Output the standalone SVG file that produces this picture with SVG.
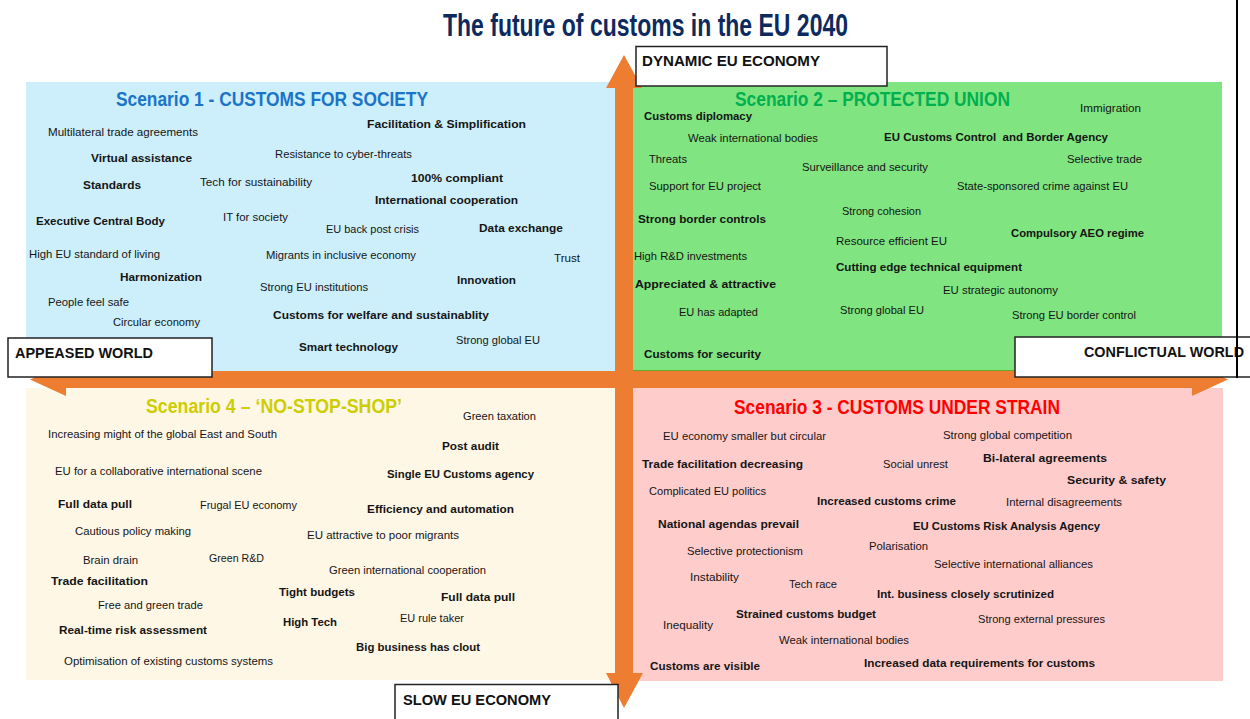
<svg xmlns="http://www.w3.org/2000/svg" width="1250" height="719" viewBox="0 0 1250 719">
<style>
text{font-family:"Liberation Sans",Arial,sans-serif;fill:#151515}
.n{font-size:10.5px}
.b{font-size:10.5px;font-weight:bold}
.h{font-size:20px;font-weight:bold}
.ax{font-size:14.5px;font-weight:bold;fill:#111}
.box{fill:#fff;stroke:#222;stroke-width:1.5}
</style>
<rect width="1250" height="719" fill="#fff"/>
<g id="title"><text x="443" y="36" font-size="31" font-weight="bold" style="fill:#0D2A5F" textLength="405" lengthAdjust="spacingAndGlyphs">The future of customs in the EU 2040</text></g>
<line x1="1237" y1="0" x2="1237" y2="378" stroke="#000" stroke-width="2"/>

<g id="scenario1">
<rect x="26" y="82" width="589" height="289" fill="#CDEFFB"/>
<text class="h" x="116" y="105.5" style="fill:#1B74C8" textLength="312" lengthAdjust="spacingAndGlyphs">Scenario 1 - CUSTOMS FOR SOCIETY</text>
<text class="n" x="48" y="135.5" textLength="150" lengthAdjust="spacingAndGlyphs">Multilateral trade agreements</text>
<text class="b" x="91" y="161.5" textLength="101" lengthAdjust="spacingAndGlyphs">Virtual assistance</text>
<text class="n" x="275" y="158" textLength="137" lengthAdjust="spacingAndGlyphs">Resistance to cyber-threats</text>
<text class="b" x="367" y="128" textLength="159" lengthAdjust="spacingAndGlyphs">Facilitation &amp; Simplification</text>
<text class="b" x="83" y="189" textLength="58" lengthAdjust="spacingAndGlyphs">Standards</text>
<text class="n" x="200" y="185.5" textLength="112" lengthAdjust="spacingAndGlyphs">Tech for sustainability</text>
<text class="b" x="411" y="182" textLength="92" lengthAdjust="spacingAndGlyphs">100% compliant</text>
<text class="b" x="375" y="204" textLength="143" lengthAdjust="spacingAndGlyphs">International cooperation</text>
<text class="b" x="36" y="224.5" textLength="129" lengthAdjust="spacingAndGlyphs">Executive Central Body</text>
<text class="n" x="223" y="220.5" textLength="65" lengthAdjust="spacingAndGlyphs">IT for society</text>
<text class="n" x="326" y="233" textLength="93" lengthAdjust="spacingAndGlyphs">EU back post crisis</text>
<text class="b" x="479" y="231.5" textLength="84" lengthAdjust="spacingAndGlyphs">Data exchange</text>
<text class="n" x="29" y="258" textLength="131" lengthAdjust="spacingAndGlyphs">High EU standard of living</text>
<text class="n" x="266" y="259" textLength="150" lengthAdjust="spacingAndGlyphs">Migrants in inclusive economy</text>
<text class="n" x="554" y="261.5" textLength="26" lengthAdjust="spacingAndGlyphs">Trust</text>
<text class="b" x="120" y="281" textLength="82" lengthAdjust="spacingAndGlyphs">Harmonization</text>
<text class="n" x="260" y="290.5" textLength="108" lengthAdjust="spacingAndGlyphs">Strong EU institutions</text>
<text class="b" x="457" y="284" textLength="59" lengthAdjust="spacingAndGlyphs">Innovation</text>
<text class="n" x="48" y="305.5" textLength="81" lengthAdjust="spacingAndGlyphs">People feel safe</text>
<text class="n" x="113" y="326" textLength="87" lengthAdjust="spacingAndGlyphs">Circular economy</text>
<text class="b" x="273" y="319" textLength="216" lengthAdjust="spacingAndGlyphs">Customs for welfare and sustainablity</text>
<text class="b" x="299" y="350.5" textLength="99" lengthAdjust="spacingAndGlyphs">Smart technology</text>
<text class="n" x="456" y="344" textLength="84" lengthAdjust="spacingAndGlyphs">Strong global EU</text>
</g>

<g id="scenario2">
<rect x="633" y="82" width="589" height="290" fill="#80E480"/>
<rect x="633" y="370" width="589" height="2.5" fill="#62A82C"/>
<text class="h" x="735" y="105.5" style="fill:#00B050" textLength="275" lengthAdjust="spacingAndGlyphs">Scenario 2 – PROTECTED UNION</text>
<text class="b" x="644" y="120" textLength="108" lengthAdjust="spacingAndGlyphs">Customs diplomacy</text>
<text class="n" x="688" y="142" textLength="130" lengthAdjust="spacingAndGlyphs">Weak international bodies</text>
<text class="b" x="884" y="141" textLength="224" lengthAdjust="spacingAndGlyphs" style="white-space:pre">EU Customs Control  and Border Agency</text>
<text class="n" x="1080" y="112" textLength="61" lengthAdjust="spacingAndGlyphs">Immigration</text>
<text class="n" x="649" y="162.5" textLength="38" lengthAdjust="spacingAndGlyphs">Threats</text>
<text class="n" x="802" y="171" textLength="126" lengthAdjust="spacingAndGlyphs">Surveillance and security</text>
<text class="n" x="1067" y="162.5" textLength="75" lengthAdjust="spacingAndGlyphs">Selective trade</text>
<text class="n" x="649" y="190" textLength="112" lengthAdjust="spacingAndGlyphs">Support for EU project</text>
<text class="n" x="957" y="190" textLength="171" lengthAdjust="spacingAndGlyphs">State-sponsored crime against EU</text>
<text class="b" x="638" y="223" textLength="128" lengthAdjust="spacingAndGlyphs">Strong border controls</text>
<text class="n" x="842" y="214.5" textLength="79" lengthAdjust="spacingAndGlyphs">Strong cohesion</text>
<text class="n" x="836" y="245" textLength="111" lengthAdjust="spacingAndGlyphs">Resource efficient EU</text>
<text class="b" x="1011" y="237" textLength="133" lengthAdjust="spacingAndGlyphs">Compulsory AEO regime</text>
<text class="n" x="634" y="260" textLength="113" lengthAdjust="spacingAndGlyphs">High R&amp;D investments</text>
<text class="b" x="836" y="271" textLength="186" lengthAdjust="spacingAndGlyphs">Cutting edge technical equipment</text>
<text class="b" x="635" y="287.5" textLength="141" lengthAdjust="spacingAndGlyphs">Appreciated &amp; attractive</text>
<text class="n" x="943" y="293.5" textLength="115" lengthAdjust="spacingAndGlyphs">EU strategic autonomy</text>
<text class="n" x="679" y="316" textLength="79" lengthAdjust="spacingAndGlyphs">EU has adapted</text>
<text class="n" x="840" y="313.5" textLength="84" lengthAdjust="spacingAndGlyphs">Strong global EU</text>
<text class="n" x="1012" y="318.5" textLength="124" lengthAdjust="spacingAndGlyphs">Strong EU border control</text>
<text class="b" x="644" y="357.5" textLength="117" lengthAdjust="spacingAndGlyphs">Customs for security</text>
</g>

<g id="scenario3">
<rect x="633" y="388" width="590" height="293" fill="#FFCCCC"/>
<text class="h" x="734" y="414" style="fill:#FF0000" textLength="326" lengthAdjust="spacingAndGlyphs">Scenario 3 - CUSTOMS UNDER STRAIN</text>
<text class="n" x="663" y="440" textLength="163" lengthAdjust="spacingAndGlyphs">EU economy smaller but circular</text>
<text class="n" x="943" y="438.5" textLength="129" lengthAdjust="spacingAndGlyphs">Strong global competition</text>
<text class="b" x="642" y="467.5" textLength="161" lengthAdjust="spacingAndGlyphs">Trade facilitation decreasing</text>
<text class="n" x="883" y="467.5" textLength="65" lengthAdjust="spacingAndGlyphs">Social unrest</text>
<text class="b" x="983" y="462" textLength="124" lengthAdjust="spacingAndGlyphs">Bi-lateral agreements</text>
<text class="b" x="1067" y="484" textLength="99" lengthAdjust="spacingAndGlyphs">Security &amp; safety</text>
<text class="n" x="649" y="495" textLength="117" lengthAdjust="spacingAndGlyphs">Complicated EU politics</text>
<text class="b" x="817" y="504.5" textLength="139" lengthAdjust="spacingAndGlyphs">Increased customs crime</text>
<text class="n" x="1006" y="506" textLength="116" lengthAdjust="spacingAndGlyphs">Internal disagreements</text>
<text class="b" x="658" y="527.5" textLength="141" lengthAdjust="spacingAndGlyphs">National agendas prevail</text>
<text class="b" x="913" y="530" textLength="187" lengthAdjust="spacingAndGlyphs">EU Customs Risk Analysis Agency</text>
<text class="n" x="687" y="555" textLength="116" lengthAdjust="spacingAndGlyphs">Selective protectionism</text>
<text class="n" x="869" y="549.5" textLength="59" lengthAdjust="spacingAndGlyphs">Polarisation</text>
<text class="n" x="934" y="567.5" textLength="159" lengthAdjust="spacingAndGlyphs">Selective international alliances</text>
<text class="n" x="690" y="581" textLength="49" lengthAdjust="spacingAndGlyphs">Instability</text>
<text class="n" x="789" y="588" textLength="48" lengthAdjust="spacingAndGlyphs">Tech race</text>
<text class="b" x="877" y="597.5" textLength="177" lengthAdjust="spacingAndGlyphs">Int. business closely scrutinized</text>
<text class="b" x="736" y="618" textLength="140" lengthAdjust="spacingAndGlyphs">Strained customs budget</text>
<text class="n" x="663" y="628.5" textLength="50" lengthAdjust="spacingAndGlyphs">Inequality</text>
<text class="n" x="978" y="622.5" textLength="127" lengthAdjust="spacingAndGlyphs">Strong external pressures</text>
<text class="n" x="779" y="644" textLength="130" lengthAdjust="spacingAndGlyphs">Weak international bodies</text>
<text class="b" x="650" y="670" textLength="110" lengthAdjust="spacingAndGlyphs">Customs are visible</text>
<text class="b" x="864" y="667" textLength="231" lengthAdjust="spacingAndGlyphs">Increased data requirements for customs</text>
</g>

<g id="scenario4">
<rect x="26" y="388" width="589" height="292" fill="#FFF7E6"/>
<text class="h" x="146" y="413" style="fill:#CDCD00" textLength="256" lengthAdjust="spacingAndGlyphs">Scenario 4 – ‘NO-STOP-SHOP’</text>
<text class="n" x="48" y="437.5" textLength="229" lengthAdjust="spacingAndGlyphs">Increasing might of the global East and South</text>
<text class="n" x="463" y="419.5" textLength="73" lengthAdjust="spacingAndGlyphs">Green taxation</text>
<text class="b" x="442" y="449.5" textLength="57" lengthAdjust="spacingAndGlyphs">Post audit</text>
<text class="n" x="55" y="474.5" textLength="207" lengthAdjust="spacingAndGlyphs">EU for a collaborative international scene</text>
<text class="b" x="387" y="477.5" textLength="147" lengthAdjust="spacingAndGlyphs">Single EU Customs agency</text>
<text class="b" x="58" y="507.5" textLength="74" lengthAdjust="spacingAndGlyphs">Full data pull</text>
<text class="n" x="200" y="508.5" textLength="97" lengthAdjust="spacingAndGlyphs">Frugal EU economy</text>
<text class="b" x="367" y="512.5" textLength="147" lengthAdjust="spacingAndGlyphs">Efficiency and automation</text>
<text class="n" x="75" y="534.5" textLength="116" lengthAdjust="spacingAndGlyphs">Cautious policy making</text>
<text class="n" x="307" y="539" textLength="152" lengthAdjust="spacingAndGlyphs">EU attractive to poor migrants</text>
<text class="n" x="83" y="564" textLength="55" lengthAdjust="spacingAndGlyphs">Brain drain</text>
<text class="n" x="209" y="562" textLength="55" lengthAdjust="spacingAndGlyphs">Green R&amp;D</text>
<text class="n" x="329" y="574" textLength="157" lengthAdjust="spacingAndGlyphs">Green international cooperation</text>
<text class="b" x="51" y="585" textLength="97" lengthAdjust="spacingAndGlyphs">Trade facilitation</text>
<text class="b" x="279" y="596" textLength="76" lengthAdjust="spacingAndGlyphs">Tight budgets</text>
<text class="b" x="441" y="601" textLength="74" lengthAdjust="spacingAndGlyphs">Full data pull</text>
<text class="n" x="98" y="608.5" textLength="105" lengthAdjust="spacingAndGlyphs">Free and green trade</text>
<text class="b" x="283" y="626" textLength="54" lengthAdjust="spacingAndGlyphs">High Tech</text>
<text class="n" x="400" y="622" textLength="64" lengthAdjust="spacingAndGlyphs">EU rule taker</text>
<text class="b" x="59" y="633.5" textLength="148" lengthAdjust="spacingAndGlyphs">Real-time risk assessment</text>
<text class="b" x="356" y="651" textLength="124" lengthAdjust="spacingAndGlyphs">Big business has clout</text>
<text class="n" x="64" y="665" textLength="209" lengthAdjust="spacingAndGlyphs">Optimisation of existing customs systems</text>
</g>

<g id="connectors">
<polygon fill="#ED7D31" points="624,55 642,88 633,88 633,673 643,673 624,708 606,673 615,673 615,88 606,88"/>
<polygon fill="#ED7D31" points="30,379.5 66,363 66,371 1192,371 1192,363 1228,379.5 1192,396 1192,388 66,388 66,396"/>
</g>

<g id="axis-dynamic">
<rect class="box" x="636" y="46.5" width="251" height="39.5"/>
<text class="ax" x="642" y="66" font-size="14" textLength="178" lengthAdjust="spacingAndGlyphs">DYNAMIC EU ECONOMY</text>
</g>
<g id="axis-appeased">
<rect class="box" x="8" y="338" width="204" height="39"/>
<text class="ax" x="15" y="358" textLength="138" lengthAdjust="spacingAndGlyphs">APPEASED WORLD</text>
</g>
<g id="axis-conflictual">
<rect class="box" x="1015" y="337" width="240" height="40"/>
<text class="ax" x="1084" y="357" textLength="160" lengthAdjust="spacingAndGlyphs">CONFLICTUAL WORLD</text>
</g>
<g id="axis-slow">
<rect class="box" x="395" y="684.5" width="223" height="40"/>
<text class="ax" x="403" y="705" textLength="148" lengthAdjust="spacingAndGlyphs">SLOW EU ECONOMY</text>
</g>
<line x1="1237" y1="330" x2="1237" y2="378" stroke="#000" stroke-width="2"/>
</svg>
